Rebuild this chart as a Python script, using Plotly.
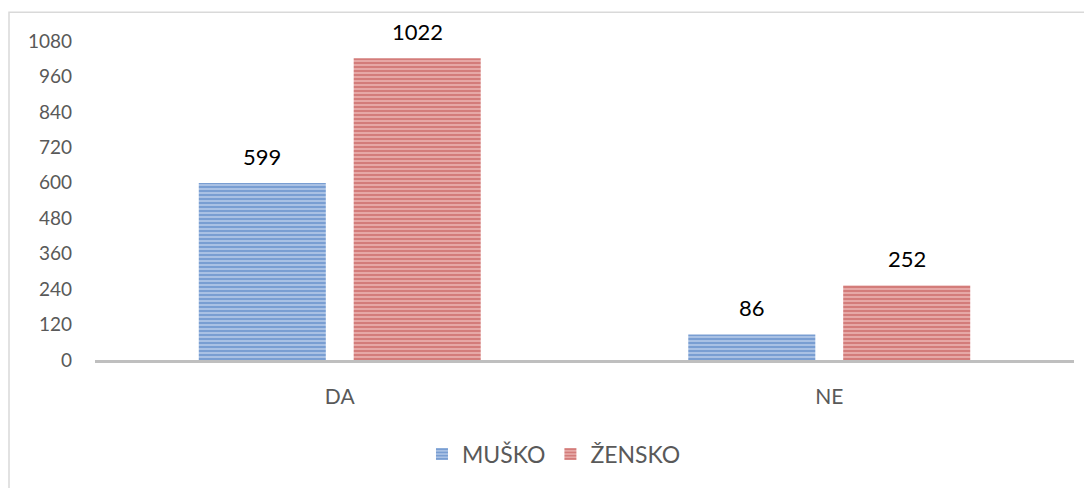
import plotly.graph_objects as go

categories = ["DA", "NE"]
series_names = ["MUŠKO", "ŽENSKO"]
musko = [599, 86]
zensko = [1022, 252]
y_ticks = [0, 120, 240, 360, 480, 600, 720, 840, 960, 1080]

FONT = "Lato, 'Open Sans', sans-serif"
GRAY = "#595959"

fig = go.Figure()
fig.add_trace(go.Bar(
    name=series_names[0], x=categories, y=musko,
    marker=dict(color="#A9C1E4", line=dict(width=0),
                pattern=dict(shape="-", fgcolor="#4A7CC0", size=4, solidity=0.5)),
))
fig.add_trace(go.Bar(
    name=series_names[1], x=categories, y=zensko,
    marker=dict(color="#E6A8A6", line=dict(width=0),
                pattern=dict(shape="-", fgcolor="#C0504D", size=4, solidity=0.5)),
))

annotations = []
for vals, shift in ((musko, -77.5), (zensko, 77.5)):
    for c, v in zip(categories, vals):
        annotations.append(dict(x=c, y=v, xref="x", yref="y", text=str(v),
                                showarrow=False, xshift=shift, yshift=27,
                                yanchor="middle",
                                font=dict(family=FONT, size=22, color="#000000")))

fig.update_layout(
    width=1084, height=480,
    margin=dict(l=87, r=18, t=33, b=125),
    paper_bgcolor="white", plot_bgcolor="white",
    barmode="group", bargap=0.367, bargroupgap=0.18,
    font=dict(family=FONT, color=GRAY),
    showlegend=True,
    legend=dict(orientation="h", x=0.334, xanchor="left", y=-0.295, yanchor="middle",
                font=dict(family=FONT, size=23, color=GRAY), itemwidth=30,
                traceorder="normal"),
    annotations=annotations,
    shapes=[dict(type="rect", xref="paper", yref="paper",
                 x0=-86/979, x1=1.05, y0=-0.5, y1=1 + 29/322,
                 line=dict(color="#D9D9D9", width=1.5), fillcolor="rgba(0,0,0,0)",
                 layer="below")],
)
fig.update_yaxes(range=[0, 1080], tickvals=y_ticks, showgrid=False, zeroline=False,
                 showline=False, ticks="", ticklabelstandoff=22,
                 tickfont=dict(family=FONT, size=19, color=GRAY))
fig.update_xaxes(showgrid=False, showline=True, linecolor="#BFBFBF", linewidth=3,
                 ticks="", ticklabelstandoff=16,
                 tickfont=dict(family=FONT, size=21, color=GRAY))

fig.write_html("out.html")
